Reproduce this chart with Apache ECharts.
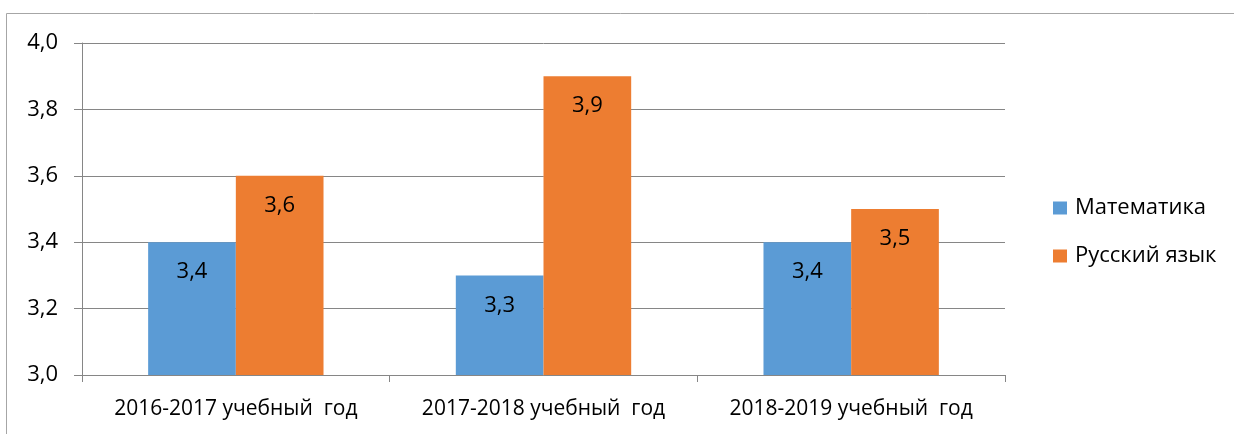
<!DOCTYPE html>
<html><head><meta charset="utf-8">
<script src="https://cdn.jsdelivr.net/npm/echarts@6/dist/echarts.min.js"></script>
<style>html,body{margin:0;padding:0;background:#fff}#c{width:1234px;height:434px}</style>
</head><body><div id="c"></div>
<script>
const categories = ['2016-2017 учебный  год', '2017-2018 учебный  год', '2018-2019 учебный  год'];
const seriesNames = ['Математика', 'Русский язык'];
const mathValues = [3.4, 3.3, 3.4];
const russianValues = [3.6, 3.9, 3.5];
const yTicks = [3.0, 3.2, 3.4, 3.6, 3.8, 4.0];
const colors = ['#5B9BD5', '#ED7D31'];
const font = 'Open Sans, Liberation Sans, sans-serif';
const fmt = v => Number(v).toFixed(1).replace('.', ',');

const chart = echarts.init(document.getElementById('c'), null, {renderer: 'canvas'});
const labelCfg = {show: true, position: 'insideTop', distance: 19, color: '#000', fontSize: 22, fontFamily: font,
  formatter: p => fmt(p.value)};
chart.setOption({
  animation: false,
  color: colors,
  graphic: [{type: 'rect', shape: {x: 6.5, y: 13.5, width: 1240, height: 440}, style: {fill: 'none', stroke: '#A6A6A6', lineWidth: 1}, silent: true}],
  grid: {left: 82, right: 229, top: 43, bottom: 59},
  legend: {orient: 'vertical', left: 1048, top: 192, itemWidth: 14, itemHeight: 13, itemGap: 26,
    icon: 'rect', textStyle: {fontSize: 22, fontFamily: font, color: '#000', padding: [0, 0, 0, 3]}, data: seriesNames},
  xAxis: {type: 'category', data: categories,
    axisLine: {lineStyle: {color: '#868686'}},
    axisTick: {show: true, length: 7, lineStyle: {color: '#868686'}},
    axisLabel: {interval: 0, hideOverlap: false, fontSize: 21, fontFamily: font, color: '#000', margin: 24}},
  yAxis: {type: 'value', min: yTicks[0], max: yTicks[yTicks.length - 1], interval: 0.2,
    axisLine: {show: true, lineStyle: {color: '#868686'}},
    axisTick: {show: true, length: 8, lineStyle: {color: '#868686'}},
    splitLine: {lineStyle: {color: '#868686'}},
    axisLabel: {fontSize: 22, fontFamily: font, color: '#000', margin: 24, formatter: v => fmt(v)}},
  series: [
    {name: seriesNames[0], type: 'bar', data: mathValues, barGap: '0%', barCategoryGap: '43%', label: labelCfg},
    {name: seriesNames[1], type: 'bar', data: russianValues, barGap: '0%', barCategoryGap: '43%', label: labelCfg}
  ]
});
</script></body></html>
